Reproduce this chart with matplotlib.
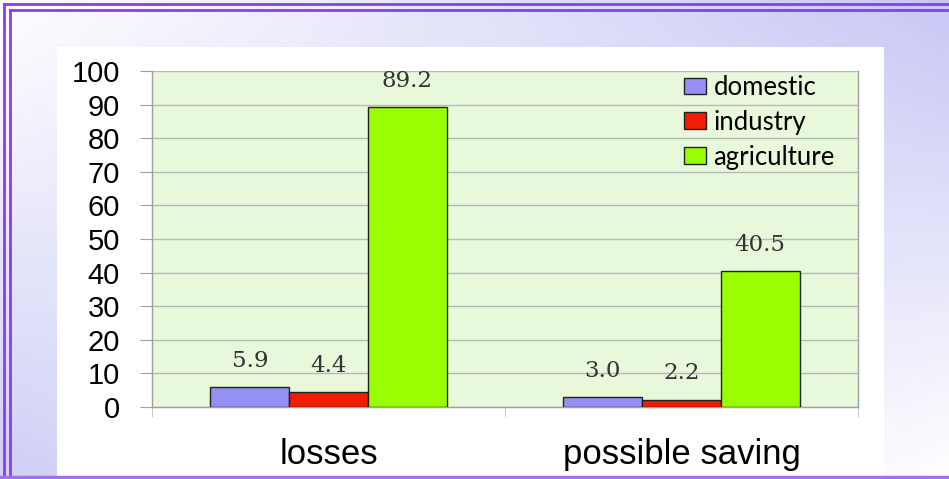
import numpy as np
import matplotlib.pyplot as plt
from matplotlib.patches import Rectangle
from matplotlib.lines import Line2D

categories = ['losses', 'possible saving']
series = ['domestic', 'industry', 'agriculture']
domestic = [5.9, 3.0]
industry = [4.4, 2.2]
agriculture = [89.2, 40.5]
colors = ['#9590f5', '#f01e00', '#99ff00']

fig = plt.figure(figsize=(9.49, 4.79), dpi=100)

# lavender backdrop, fading to white towards top-left and bottom-right
bg = fig.add_axes([0, 0, 1, 1], zorder=-10)
xx, yy = np.meshgrid(np.linspace(0, 1, 200), np.linspace(0, 1, 100))
t = (1 - xx) * yy * 0.85 + xx * (1 - yy) * 1.0
white = np.array([1.0, 1.0, 1.0])
lav = np.array([0.78, 0.78, 0.96])
img = white[None, None, :] * (1 - t[..., None]) + lav[None, None, :] * t[..., None]
bg.imshow(img, extent=[0, 1, 0, 1], aspect='auto', origin='upper')
bg.set_xlim(0, 1)
bg.set_ylim(0, 1)
bg.axis('off')

# white chart panel
bg.add_patch(Rectangle((57 / 949, 0), (884 - 57) / 949, 1 - 47 / 479,
                       facecolor='white', edgecolor='none'))

# double purple frame (top and left edges meeting at the corner)
for off in [4.0, 10.0]:
    xf, yf = off / 949, 1 - off / 479
    bg.add_line(Line2D([xf, 1], [yf, yf], color='#8a3ee8', lw=2.0))
    bg.add_line(Line2D([xf, xf], [0, yf], color='#8a3ee8', lw=2.0))
bg.add_line(Line2D([0, 1], [2 / 479, 2 / 479], color='#a070f0', lw=2.5))

ax = fig.add_axes([152 / 949, 72 / 479, (858 - 152) / 949, (407 - 71) / 479])
ax.set_facecolor('#e8f9db')

x = np.arange(len(categories))
w = 0.223
for i, (name, vals) in enumerate(zip(series, [domestic, industry, agriculture])):
    pos = x + (i - 1) * w
    ax.bar(pos, vals, width=w, color=colors[i], edgecolor='#222222',
           linewidth=1.0, label=name, zorder=3)
    for px, v in zip(pos, vals):
        ax.annotate(f'{v:.1f}', (px, v), xytext=(0, 19), textcoords='offset points',
                    ha='center', va='center', fontsize=16.5, color='#333333',
                    family='DejaVu Serif')

ax.set_xlim(-0.5, 1.5)
ax.set_ylim(0, 100)
ax.set_yticks(np.arange(0, 101, 10))
ax.yaxis.grid(True, color='#b8b8b8', lw=1.0, zorder=0)
ax.set_axisbelow(True)
for s in ax.spines.values():
    s.set_color('#a0a0a0')
    s.set_linewidth(1.0)
ax.spines['top'].set_visible(False)

ax.tick_params(axis='y', length=9, color='#a0a0a0', pad=14, labelsize=21)
ax.set_xticks(x)
ax.set_xticklabels(categories)
ax.tick_params(axis='x', which='major', length=0, pad=22, labelsize=25)
ax.set_xticks([-0.5, 0.5, 1.5], minor=True)
ax.tick_params(axis='x', which='minor', length=7, color='#c0c0c0')
for lab in ax.get_xticklabels() + ax.get_yticklabels():
    lab.set_family('Liberation Sans')

ax.legend(loc='upper left', bbox_to_anchor=(684 / 949, 1 - 75 / 479),
          bbox_transform=fig.transFigure, frameon=False, borderpad=0,
          borderaxespad=0, handlelength=0.85, handleheight=0.62,
          handletextpad=0.3, labelspacing=0.38,
          prop={'family': 'Lato', 'size': 18.5})

fig.savefig('out.png', dpi=100)
